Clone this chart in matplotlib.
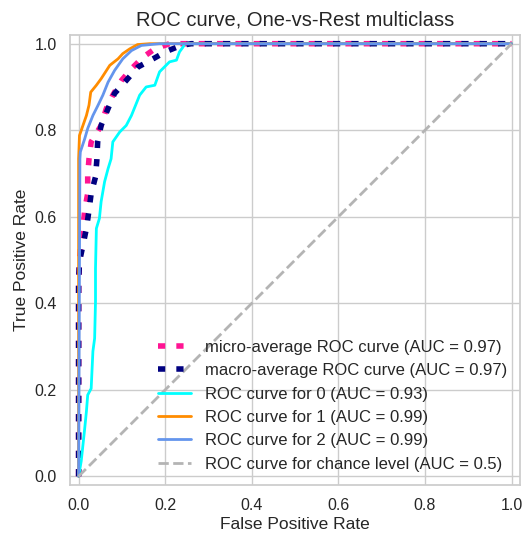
import matplotlib
matplotlib.use("Agg")
import matplotlib.pyplot as plt
import seaborn as sns

# Punkty krzywych ROC (fpr, tpr)
fpr_micro = [0, 0, 0.002, 0.005, 0.010, 0.014, 0.021, 0.021, 0.024, 0.029, 0.052,
             0.064, 0.079, 0.099, 0.122, 0.149, 0.176, 0.210, 1.0]
tpr_micro = [0, 0.45, 0.496, 0.534, 0.573, 0.615, 0.654, 0.696, 0.734, 0.773, 0.811,
             0.850, 0.881, 0.915, 0.942, 0.969, 0.988, 1.0, 1.0]

fpr_macro = [0, 0, 0.002, 0.010, 0.018, 0.024, 0.029, 0.039, 0.042, 0.044, 0.052,
             0.068, 0.083, 0.110, 0.137, 0.172, 0.202, 0.237, 0.260, 1.0]
tpr_macro = [0, 0.45, 0.496, 0.534, 0.573, 0.615, 0.654, 0.692, 0.730, 0.773, 0.811,
             0.850, 0.885, 0.915, 0.946, 0.965, 0.982, 0.996, 1.0, 1.0]

fpr_0 = [0, 0.006, 0.014, 0.018, 0.021, 0.029, 0.033, 0.037, 0.039, 0.039, 0.041,
         0.048, 0.052, 0.060, 0.068, 0.075, 0.079, 0.095, 0.110, 0.122, 0.141,
         0.156, 0.176, 0.187, 0.210, 0.226, 0.233, 0.241, 0.245, 1.0]
tpr_0 = [0, 0.035, 0.110, 0.150, 0.188, 0.203, 0.289, 0.319, 0.404, 0.480, 0.573,
         0.596, 0.635, 0.681, 0.711, 0.734, 0.773, 0.796, 0.811, 0.834, 0.881,
         0.900, 0.904, 0.935, 0.958, 0.962, 0.981, 0.992, 1.0, 1.0]

fpr_1 = [0, 0, 0.002, 0.010, 0.018, 0.024, 0.028, 0.041, 0.052, 0.072, 0.091,
         0.102, 0.118, 0.136, 0.164, 1.0]
tpr_1 = [0, 0.734, 0.788, 0.811, 0.834, 0.858, 0.888, 0.904, 0.919, 0.950, 0.965,
         0.977, 0.988, 0.998, 1.0, 1.0]

fpr_2 = [0, 0.002, 0.003, 0.004, 0.014, 0.021, 0.033, 0.045, 0.056, 0.068, 0.083,
         0.102, 0.122, 0.145, 0.187, 1.0]
tpr_2 = [0, 0.50, 0.734, 0.750, 0.780, 0.804, 0.834, 0.858, 0.881, 0.911, 0.938,
         0.965, 0.984, 0.996, 1.0, 1.0]

auc_micro = 0.97
auc_macro = 0.97
auc_classes = [0.93, 0.99, 0.99]
class_fpr = [fpr_0, fpr_1, fpr_2]
class_tpr = [tpr_0, tpr_1, tpr_2]
class_colors = ["aqua", "darkorange", "cornflowerblue"]

sns.set_theme(style="whitegrid")
plt.rcParams['font.family'] = ['Liberation Sans', 'DejaVu Sans']

fig = plt.figure(figsize=(5.26, 5.35), dpi=100)
ax = fig.add_axes([0.133, 0.0935, 0.856, 0.841])

ax.plot(fpr_micro, tpr_micro, color="deeppink", linestyle=(0, (1.3, 2.0)), linewidth=4,
        label=f"micro-average ROC curve (AUC = {auc_micro:.2f})")
ax.plot(fpr_macro, tpr_macro, color="navy", linestyle=(0, (1.3, 2.0)), linewidth=4,
        label=f"macro-average ROC curve (AUC = {auc_macro:.2f})")

for i, (fp, tp, col) in enumerate(zip(class_fpr, class_tpr, class_colors)):
    ax.plot(fp, tp, color=col, linewidth=2,
            label=f"ROC curve for {i} (AUC = {auc_classes[i]:.2f})")

ax.plot([0, 1], [0, 1], color="#b4b4b4", linestyle="--", linewidth=2,
        label="ROC curve for chance level (AUC = 0.5)")

ax.set_xlim(-0.02, 1.02)
ax.set_ylim(-0.02, 1.02)
ax.set_xticks([0, 0.2, 0.4, 0.6, 0.8, 1.0])
ax.set_yticks([0, 0.2, 0.4, 0.6, 0.8, 1.0])
ax.tick_params(labelsize=11.5)
ax.set_xlabel("False Positive Rate", fontsize=12.5, labelpad=3)
ax.set_ylabel("True Positive Rate", fontsize=12.5)
ax.set_title("ROC curve, One-vs-Rest multiclass", fontsize=14.5, pad=7)
ax.legend(loc="lower right", frameon=False, fontsize=12, labelspacing=0.5,
          borderaxespad=0.4)

fig.savefig("out.png", dpi=100)
